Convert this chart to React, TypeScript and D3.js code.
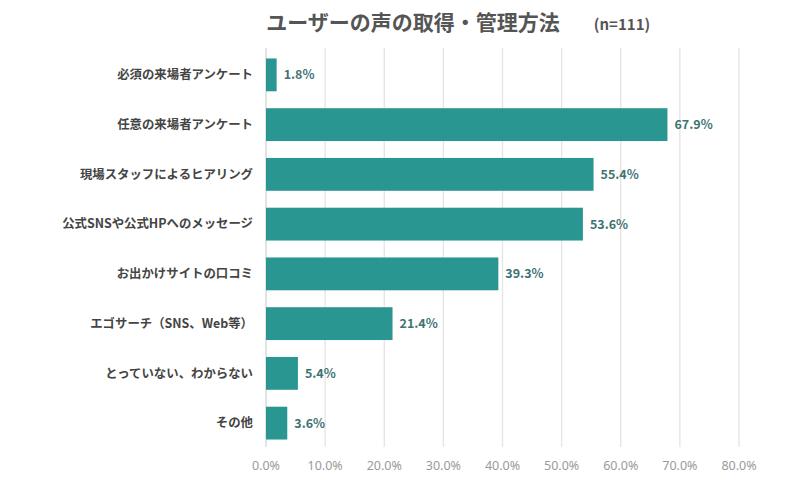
import React from "react";
import * as d3 from "d3";

const categories = [
  "必須の来場者アンケート",
  "任意の来場者アンケート",
  "現場スタッフによるヒアリング",
  "公式SNSや公式HPへのメッセージ",
  "お出かけサイトの口コミ",
  "エゴサーチ（SNS、Web等）",
  "とっていない、わからない",
  "その他",
];
const values = [1.8, 67.9, 55.4, 53.6, 39.3, 21.4, 5.4, 3.6];
const ticks = [0, 10, 20, 30, 40, 50, 60, 70, 80];
const title = "ユーザーの声の取得・管理方法";
const subtitle = "(n=111)";

const W = 800;
const H = 486;
const margin = { left: 266, right: 61, top: 50, bottom: 38 };
const FONT = "'Noto Sans CJK JP', 'Noto Sans', sans-serif";

export default function App() {
  const x = d3.scaleLinear().domain([0, 80]).range([margin.left, W - margin.right]);
  const y = d3
    .scaleBand<string>()
    .domain(categories)
    .range([margin.top, H - margin.bottom])
    .paddingInner(0.34)
    .paddingOuter(0.17);

  return (
    <svg
      width={W}
      height={H}
      style={{ position: "absolute", left: 0, top: 0, background: "#fff" }}
      fontFamily={FONT}
    >
      <text x={413} y={30} textAnchor="middle" fontSize={21} fontWeight={700} fill="#555">
        {title}
      </text>
      <text x={622} y={30} textAnchor="middle" fontSize={15} fontWeight={700} fill="#555">
        {subtitle}
      </text>
      {ticks.map((t) => (
        <g key={t}>
          <line
            x1={x(t)}
            x2={x(t)}
            y1={margin.top - 2}
            y2={H - margin.bottom - 1}
            stroke={t === 0 ? "#d4d4d4" : "#e4e4e4"}
            strokeWidth={1.3}
          />
          <text
            x={x(t)}
            y={470}
            textAnchor="middle"
            fontSize={12.5}
            fill="#9a9a9a"
            fontFamily="'Noto Sans', sans-serif"
          >
            {t.toFixed(1) + "%"}
          </text>
        </g>
      ))}
      {categories.map((c, i) => {
        const yy = y(c)!;
        const bw = y.bandwidth();
        return (
          <g key={c}>
            <rect x={x(0)} y={yy} width={x(values[i]) - x(0)} height={bw} fill="#2a9692" />
            <text
              x={x(values[i]) + 7}
              y={yy + bw / 2}
              dy="0.35em"
              fontSize={12.5}
              fontWeight={700}
              fill="#3f7373"
            >
              {values[i].toFixed(1) + "%"}
            </text>
            <text
              x={253}
              y={yy + bw / 2}
              dy="0.35em"
              textAnchor="end"
              fontSize={12.4}
              fontWeight={700}
              fill="#444"
            >
              {c}
            </text>
          </g>
        );
      })}
    </svg>
  );
}
